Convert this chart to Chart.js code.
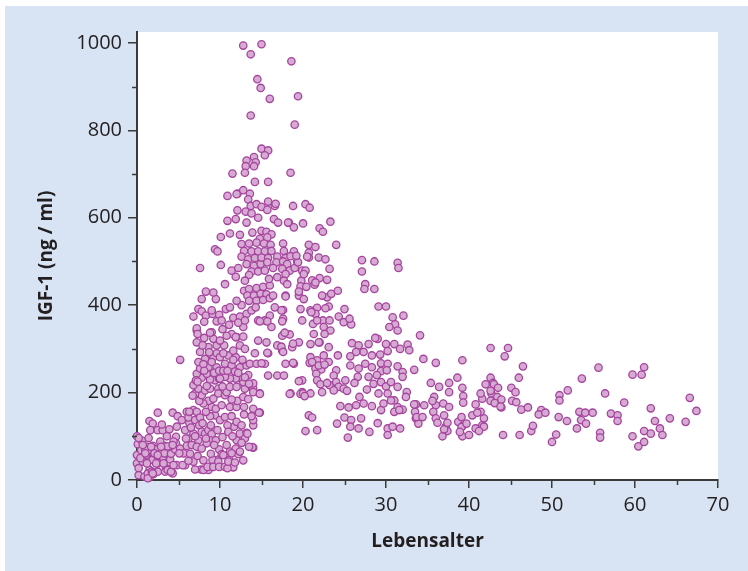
<!DOCTYPE html>
<html>
<head>
<meta charset="utf-8">
<script src="https://cdn.jsdelivr.net/npm/chart.js@4.4.1/dist/chart.umd.min.js"></script>
<style>
  html, body { margin: 0; padding: 0; background: #fff; }
  canvas { display: block; }
</style>
</head>
<body>
<canvas id="igf" width="748" height="571"></canvas>
<script>
// IGF-1 serum levels (ng/ml) against age (years), one [age, igf] pair per subject
const infants = [
  [0,100],[0.1,82],[0,57],[0,38],[0.2,27],[0.2,11],[0.9,8],[1.5,6],[2.0,14],[1.5,23],[0.7,42],[1.1,57],
  [0.5,68],[1.2,76],[1.9,78],[2.0,59],[1.9,46],[2.5,53],[3.1,52],[2.5,38],[3.3,78],[3.7,63],[4.0,47],
  [3.5,27],[4.2,17],[3.4,19],[2.5,19],[1.5,135],[2.5,154],[1.9,129],[1.6,114],[2.5,114],[3.1,114],
  [3.9,116],[4.3,154],[4.9,146],[4.8,122],[4.7,99],[4.7,84],[4.8,34],[1.0,69],[3.0,127],[3.7,77],
  [3.3,61],[4.3,15],[1.3,15],[1.8,19],[0.6,90],[2.8,88],[3.6,100],[4.1,60],[0.4,50],[1.4,96],[2.2,70],
  [4.4,88],[4.6,70],[1.0,61],[1.2,38],[1.3,4],[1.9,15],[2.3,38],[2.1,61],[1.7,76],[0.7,80],[2.9,76],
  [2.5,57],[3.2,38],[3.7,23],[4.1,19],[4.4,34],[4.3,80],[0.2,96]
];
const children = [
  [5.2,275],[5.4,137],[5.2,72],[5.8,34],[5.6,61],[6.0,78],[6.2,95],[5.8,114],[6.3,131],[6.0,156],
  [6.8,160],[7.2,156],[6.2,143],[7.0,137],[7.6,143],[7.5,125],[6.8,106],[7.8,110],[7.4,91],[8.2,106],
  [8.6,114],[9.0,105],[9.7,114],[8.8,91],[9.5,91],[6.6,80],[7.2,76],[7.8,72],[8.4,84],[9.9,70],[6.8,42],
  [7.7,24],[8.6,23],[9.1,30],[9.7,46],[5.1,61],[5.5,34],[6.2,44],[7.0,24],[8.0,23],[8.5,30],[9.1,46],
  [9.2,30],[9.8,42],[9.9,30],[9.4,148],[8.8,146],[8.3,156],[9.0,167],[9.5,163],[8.6,181],[8.0,175],
  [7.5,181],[7.8,194],[7.0,198],[7.4,209],[6.8,217],[8.2,205],[8.8,209],[9.8,209],[9.4,228],[8.8,230],
  [7.8,234],[7.2,243],[8.4,243],[7.6,255],[8.6,258],[9.6,258],[9.2,186],[9.8,198],[6.7,193],[6.3,156],
  [7.4,270],[8.2,277],[9.2,281],[7.6,293],[8.6,304],[9.6,308],[7.2,315],[9.2,323],[7.2,342],[9.0,338],
  [9.9,232],[7.8,414],[9.5,414],[9.2,429],[7.4,391],[6.8,374],[7.8,386],[8.3,376],[9.1,380],[9.9,378],
  [8.1,325],[7.6,485],[9.4,528],[9.7,523],[7.2,347],[7.3,334],[8.1,362],[9.0,388],[9.6,363],[8.8,337],
  [8.3,431],[9.6,290],[8.0,265],[9.3,245],[8.4,215],[7.1,228],[5.9,95],[6.5,120],[7.0,100],[7.9,130],
  [8.3,95],[8.9,125],[9.3,80],[6.4,60],[7.3,55],[8.0,45],[8.9,60],[7.3,225],[8.1,250],[9.0,270],
  [9.9,250],[8.7,292],[7.9,308]
];
const teens = [
  [10.2,59],[10.6,30],[11.6,29],[11.1,46],[11.2,65],[11.9,72],[12.2,59],[12.0,91],[12.4,106],[13.2,108],
  [13.0,95],[14.0,74],[14.0,125],[14.0,137],[13.8,146],[14.8,154],[11.7,122],[10.9,125],[10.0,137],
  [10.6,144],[11.4,146],[12.0,133],[12.6,125],[10.2,171],[11.2,167],[12.0,167],[12.9,167],[12.1,181],
  [12.8,190],[11.4,184],[10.6,194],[10.8,201],[11.2,213],[12.0,213],[13.0,209],[14.0,209],[14.8,198],
  [14.0,201],[12.8,224],[12.4,236],[11.9,232],[11.2,232],[10.6,236],[10.0,232],[10.6,266],[11.4,262],
  [12.4,258],[13.2,262],[13.6,266],[14.4,266],[11.0,285],[11.9,281],[12.7,275],[10.5,308],[11.6,296],
  [12.4,308],[13.0,300],[14.2,290],[10.0,319],[12.0,327],[12.8,328],[14.0,163],[13.9,75],[14.7,154],
  [14.8,197],[14.0,221],[10.0,281],[10.9,27],[11.0,42],[10.4,57],[11.4,61],[12.4,65],[13.5,76],[13.3,106],
  [14.2,682],[10.9,650],[12.1,655],[12.8,663],[13.6,655],[13.4,642],[13.7,627],[14.4,631],[12.1,617],
  [13.1,614],[13.8,610],[14.6,600],[10.9,593],[11.9,597],[13.2,589],[10.1,556],[11.2,564],[12.4,561],
  [13.9,566],[14.8,552],[12.6,540],[13.5,541],[14.4,543],[12.9,524],[13.8,523],[14.6,523],[12.6,511],
  [13.4,505],[14.2,508],[13.2,494],[14.1,490],[14.9,494],[10.1,492],[13.8,477],[14.6,477],[11.4,479],
  [12.2,485],[11.9,465],[13.5,469],[10.6,448],[13.0,456],[12.9,433],[13.5,437],[14.4,439],[13.3,422],
  [14.1,422],[14.9,426],[13.5,410],[14.4,410],[10.7,391],[11.6,371],[12.4,374],[13.2,380],[14.6,365],
  [11.4,334],[11.9,327],[12.8,350],[12.8,994],[13.7,974],[14.5,917],[14.9,897],[13.7,834],[14.1,739],
  [13.2,731],[14.3,727],[13.1,718],[14.1,718],[11.5,701],[13.0,703],[12.0,654],[12.2,360],[13.0,365],
  [13.8,388],[14.3,395],[12.6,400],[11.1,355],[10.3,345],[10.8,330],[10.2,365],[11.2,395],[12.0,410],
  [10.4,250],[11.8,248],[13.4,240],[10.3,214],[13.4,185],[11.0,110],[12.9,150],[10.3,98],[10.8,80],
  [11.5,100],[12.6,85],[11.8,40],[12.8,45],[10.4,290],[10.9,250],[11.6,275],[12.2,245],[13.0,235],
  [13.5,220]
];
const youth = [
  [15.8,682],[15.0,625],[15.8,637],[16.6,627],[15.7,618],[18.8,627],[16.5,597],[17.0,589],[18.3,589],
  [18.9,578],[15.0,570],[15.6,568],[16.2,562],[15.7,555],[15.3,541],[16.1,538],[17.6,541],[15.4,523],
  [16.2,524],[17.7,524],[18.9,523],[15.0,509],[15.8,508],[16.9,511],[17.9,508],[18.5,512],[15.7,498],
  [16.8,498],[17.6,500],[18.1,494],[19.3,500],[15.4,479],[16.4,485],[17.5,483],[18.4,479],[19.0,485],
  [19.9,479],[16.9,464],[17.9,471],[17.7,456],[18.1,448],[19.8,456],[15.2,442],[16.0,445],[15.6,425],
  [15.2,412],[16.0,416],[16.4,422],[17.9,422],[19.5,422],[17.6,389],[17.6,369],[17.7,334],[18.4,333],
  [15.4,365],[16.2,350],[16.0,376],[19.7,391],[19.9,365],[15.0,997],[18.6,958],[16.0,872],[19.4,878],
  [19.0,813],[15.0,758],[15.8,754],[15.4,743],[18.5,703],[16.7,632],[18.2,589],[15.8,290],[17.9,266],
  [18.9,266],[17.5,296],[18.7,304],[19.5,315],[15.8,239],[16.9,239],[17.7,239],[19.9,228],[18.5,198],
  [19.9,201],[14.6,319],[15.6,315],[16.9,308],[15.4,266],[15.0,267],[15.7,291],[15.7,363],[14.8,363],
  [17.4,305],[17.6,293],[17.5,330],[17.8,337],[17.5,363],[17.4,388],[17.9,420],[18.8,312],[18.8,268],
  [19.5,226],[19.7,197],[18.4,197],[19.4,498],[19.7,443],[19.5,431],[15.9,460],[16.6,395],[19.2,513]
];
const twenties = [
  [20.3,631],[20.8,623],[20.0,587],[23.3,591],[22.0,576],[22.4,568],[24.0,538],[20.7,538],[21.5,533],
  [20.7,520],[20.7,509],[21.9,509],[22.7,505],[23.2,483],[20.3,479],[21.1,457],[22.0,462],[21.4,447],
  [22.9,418],[23.4,426],[24.2,433],[25.0,391],[23.1,397],[21.7,394],[21.5,380],[20.9,388],[21.2,357],
  [22.4,365],[23.2,365],[24.3,374],[24.9,361],[22.5,350],[23.3,342],[22.6,334],[21.3,334],[20.1,414],
  [21.7,365],[22.3,422],[22.7,393],[21.0,384],[20.5,511],[21.5,452],[22.9,458],[20.4,442],[20.1,471],
  [20.9,311],[22.0,315],[24.2,285],[23.1,304],[23.1,270],[21.7,274],[20.8,268],[21.5,255],[22.2,253],
  [21.6,243],[24.0,251],[23.7,239],[20.0,198],[20.9,198],[21.7,228],[22.1,219],[22.3,201],[23.2,217],
  [24.0,224],[24.3,213],[24.9,209],[23.7,205],[24.5,169],[20.7,148],[21.1,143],[20.3,112],[21.7,114],
  [24.1,129],[20.9,281],[21.9,315],[22.5,285],[21.1,270],[21.9,262],[22.6,264],[22.9,222],[20.2,192]
];
const adults = [
  [25.8,356],[25.6,369],[27.1,503],[28.6,500],[31.4,497],[31.5,485],[27.1,477],[27.5,448],[27.4,437],
  [28.6,437],[29.1,397],[30.0,397],[30.8,372],[32.1,376],[31.1,356],[30.4,350],[31.4,342],[25.9,313],
  [26.7,308],[27.9,311],[29.0,323],[30.0,311],[31.0,311],[31.7,300],[32.6,310],[30.2,295],[29.3,287],
  [28.3,285],[27.3,293],[26.4,293],[25.7,283],[27.5,266],[28.3,258],[29.4,267],[30.2,266],[29.4,249],
  [30.1,251],[31.4,260],[32.0,247],[32.0,236],[25.7,262],[26.7,255],[26.6,236],[27.9,236],[28.5,220],
  [29.4,224],[30.0,214],[30.6,224],[31.4,213],[32.5,201],[32.4,190],[31.0,182],[25.1,228],[25.3,204],
  [27.7,207],[29.1,198],[30.2,198],[25.5,166],[26.4,171],[26.8,190],[27.3,175],[28.3,169],[29.4,160],
  [29.7,175],[30.6,182],[31.4,167],[32.0,161],[25.0,143],[25.8,137],[25.7,122],[26.7,118],[25.4,97],
  [28.0,110],[30.2,118],[30.2,103],[31.7,118],[31.0,156],[30.8,122],[31.6,160],[32.8,297],[28.7,325],
  [26.2,222],[28.9,240],[27.0,141],[29.0,130]
];
const middleAged = [
  [34.1,331],[34.5,277],[36.0,268],[39.2,274],[33.4,252],[33.6,173],[33.5,156],[33.6,141],[33.9,129],
  [34.6,171],[35.8,190],[36.4,213],[35.4,222],[37.6,222],[38.6,234],[39.2,211],[39.3,192],[36.0,171],
  [36.9,175],[37.6,201],[37.6,167],[35.7,156],[36.0,141],[36.2,131],[37.0,148],[37.2,122],[37.4,112],
  [36.8,100],[38.7,133],[39.2,123],[39.2,100],[40.4,148],[41.8,141],[41.6,125],[40.8,118],[40.0,103],
  [42.6,234],[42.9,222],[42.7,198],[42.6,302],[44.7,302],[44.3,283],[42.0,219],[43.0,219],[43.5,211],
  [42.6,204],[45.1,211],[43.4,190],[41.6,186],[42.6,181],[43.1,176],[43.9,184],[43.9,166],[45.2,181],
  [41.4,198],[41.4,156],[41.8,122],[44.1,103],[33.7,144],[34.4,144],[35.6,181],[39.1,144],[39.1,121],
  [38.9,110],[39.7,129],[41.2,112],[41.0,154],[40.8,173],[39.3,177],[33.4,173],[43.8,168],[37.0,116],
  [37.4,131]
];
const seniors = [
  [45.6,201],[45.7,178],[46.5,260],[46.0,234],[55.6,257],[61.1,258],[59.7,241],[60.8,241],[53.6,232],
  [51.9,205],[50.9,194],[50.9,182],[56.4,198],[58.7,177],[66.6,188],[67.4,158],[61.9,164],[46.3,161],
  [47.1,166],[48.7,160],[48.4,150],[49.2,154],[46.1,103],[47.5,112],[47.7,124],[50.0,87],[50.5,104],
  [50.8,144],[51.8,135],[53.3,156],[54.0,154],[54.9,154],[53.5,137],[54.1,129],[53.0,118],[55.8,108],
  [55.8,97],[57.1,152],[57.9,148],[57.9,135],[59.7,100],[60.4,77],[61.1,87],[61.1,112],[61.9,106],
  [62.4,135],[63.0,118],[63.3,103],[64.2,141],[66.1,133]
];

const xTickStep = 5;     // labelled every 10 years
const yTickStep = 100;   // labelled every 200 ng/ml

const points = [infants, children, teens, youth, twenties, adults, middleAged, seniors]
  .flat()
  .map(([x, y]) => ({ x, y }));

const axisColor = "#3a3a3a";
const textColor = "#231f20";
const titleFont = { family: "'Open Sans', sans-serif", weight: "bold", size: 19 };

// panel background: light blue frame, white plot area
const backdrop = {
  id: "backdrop",
  beforeDraw(chart) {
    const { ctx, chartArea: a } = chart;
    ctx.save();
    ctx.fillStyle = "#ffffff";
    ctx.fillRect(0, 0, chart.width, chart.height);
    ctx.fillStyle = "#d8e4f3";
    ctx.fillRect(5, 6, chart.width - 5, chart.height - 6);
    ctx.fillStyle = "#ffffff";
    ctx.fillRect(a.left, a.top, a.right - a.left, a.bottom - a.top);
    ctx.restore();
  },
};

// short unlabelled ticks between the major ones
const minorTicks = {
  id: "minorTicks",
  afterDraw(chart) {
    const { ctx } = chart;
    const xs = chart.scales.x, ys = chart.scales.y;
    ctx.save();
    ctx.strokeStyle = axisColor;
    ctx.lineWidth = 1.5;
    ctx.beginPath();
    xs.ticks.forEach((t) => {
      if (t.value % 10 === 0) return;
      const px = Math.round(xs.getPixelForValue(t.value)) + 0.5;
      ctx.moveTo(px, xs.top);
      ctx.lineTo(px, xs.top + 5);
    });
    ys.ticks.forEach((t) => {
      if (t.value % 200 === 0) return;
      const py = Math.round(ys.getPixelForValue(t.value)) + 0.5;
      ctx.moveTo(ys.right, py);
      ctx.lineTo(ys.right - 5, py);
    });
    ctx.stroke();
    ctx.restore();
  },
};

const majorTick = (step) => (ctx) =>
  ctx.tick && ctx.tick.value % step === 0 ? axisColor : "rgba(0,0,0,0)";

new Chart(document.getElementById("igf"), {
  type: "scatter",
  data: {
    datasets: [
      {
        data: points,
        clip: false,
        pointRadius: 3.7,
        pointBorderWidth: 1.3,
        backgroundColor: "#d7aad3",
        borderColor: "#a5449e",
      },
    ],
  },
  options: {
    responsive: false,
    animation: false,
    layout: { padding: { left: 28, right: 30, top: 32, bottom: 0 } },
    plugins: { legend: { display: false }, tooltip: { enabled: false } },
    scales: {
      x: {
        type: "linear",
        min: 0,
        max: 70,
        border: { display: true, color: axisColor, width: 2 },
        grid: { drawOnChartArea: false, drawTicks: true, tickLength: 8, lineWidth: 1.5, color: majorTick(10) },
        ticks: {
          stepSize: xTickStep,
          autoSkip: false,
          maxRotation: 0,
          padding: 5,
          color: textColor,
          font: { family: "Open Sans", size: 20 },
          callback: (v) => (v % 10 === 0 ? v : ""),
        },
        title: {
          display: true,
          text: "Lebensalter",
          color: textColor,
          font: titleFont,
          padding: { top: 0, bottom: 18 },
        },
        afterFit: (s) => { s.height = 91; },
      },
      y: {
        type: "linear",
        min: 0,
        max: 1025,
        border: { display: true, color: axisColor, width: 2 },
        grid: { drawOnChartArea: false, drawTicks: true, tickLength: 9, lineWidth: 1.5, color: majorTick(200) },
        ticks: {
          stepSize: yTickStep,
          includeBounds: false,
          autoSkip: false,
          padding: 6,
          color: textColor,
          font: { family: "Open Sans", size: 20 },
          callback: (v) => (v % 200 === 0 ? v : ""),
        },
        title: {
          display: true,
          text: "IGF-1 (ng / ml)",
          color: textColor,
          font: titleFont,
          padding: { top: 7, bottom: 0 },
        },
        afterFit: (s) => { s.width = 109; },
      },
    },
  },
  plugins: [backdrop, minorTicks],
});
</script>
</body>
</html>
